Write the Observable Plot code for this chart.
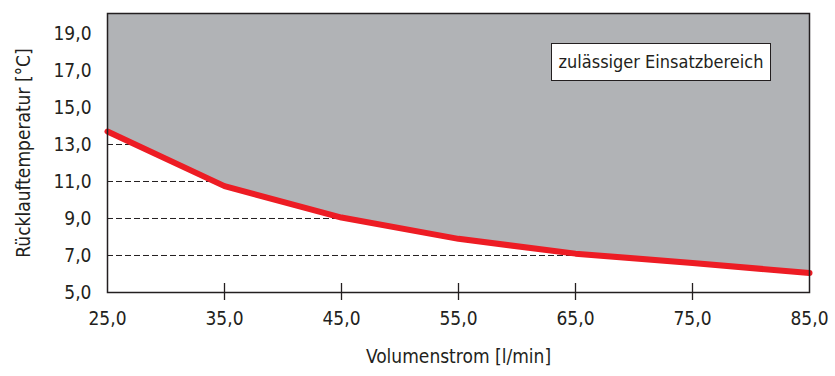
<!DOCTYPE html>
<html>
<head>
<meta charset="utf-8">
<script src="https://cdn.jsdelivr.net/npm/d3@7"></script>
<script src="https://cdn.jsdelivr.net/npm/@observablehq/plot@0.6"></script>
<style>
  html, body { margin: 0; padding: 0; background: #fff; }
  #wrap { position: relative; width: 835px; height: 376px; }
  #legend {
    position: absolute; left: 551px; top: 43px; width: 218px; height: 36px;
    border: 1.5px solid #231f20; background: #fff; white-space: nowrap;
    font-family: "DejaVu Sans Condensed", "DejaVu Sans", sans-serif; font-stretch: condensed;
    font-size: 18px; color: #231f20; line-height: 36px; text-align: center;
  }
</style>
</head>
<body>
<div id="wrap"><div id="legend">zulässiger Einsatzbereich</div></div>
<script>
// Data
const flows = [25, 35, 45, 55, 65, 75, 85];              // Volumenstrom [l/min]
const temps = [13.7, 10.75, 9.05, 7.9, 7.1, 6.6, 6.05];  // Rücklauftemperatur [°C]
const xTicks = [25, 35, 45, 55, 65, 75, 85];
const yTicks = [5, 7, 9, 11, 13, 15, 17, 19];
const gridValues = [7, 9, 11, 13];
const yMax = 20.08;

const data = flows.map((f, i) => ({flow: f, temp: temps[i]}));
const fmt = d => d.toFixed(1).replace(".", ",");
const font = '"DejaVu Sans Condensed", "DejaVu Sans", sans-serif';

const chart = Plot.plot({
  width: 835,
  height: 376,
  marginLeft: 107,
  marginRight: 26,
  marginTop: 13,
  marginBottom: 84,
  style: {fontFamily: font, fontStretch: "condensed", fontSize: "18px", color: "#231f20", background: "#fff"},
  x: {domain: [25, 85]},
  y: {domain: [5, yMax]},
  marks: [
    Plot.ruleY(gridValues, {stroke: "#231f20", strokeWidth: 1, strokeDasharray: "6,3"}),
    Plot.areaY(data, {x: "flow", y1: "temp", y2: () => yMax, fill: "#b1b3b6", curve: "linear"}),
    Plot.line(data, {x: "flow", y: "temp", stroke: "#ed1c24", strokeWidth: 6, strokeLinejoin: "round"}),
    Plot.ruleX(xTicks.slice(1, -1), {stroke: "#231f20", strokeWidth: 1.3, insetTop: 270, insetBottom: -8}),
    Plot.frame({stroke: "#231f20", strokeWidth: 1.5}),
    Plot.axisX(xTicks, {tickSize: 0, tickPadding: 19, tickFormat: fmt, fontSize: 19,
      label: "Volumenstrom [l/min]", labelAnchor: "center", labelOffset: 70, labelArrow: "none"}),
    Plot.axisY(yTicks, {tickSize: 0, tickPadding: 16, tickFormat: fmt, fontSize: 19,
      label: "Rücklauftemperatur [°C]", labelAnchor: "center", labelOffset: 91, labelArrow: "none"})
  ]
});
document.getElementById("wrap").prepend(chart);
</script>
</body>
</html>
